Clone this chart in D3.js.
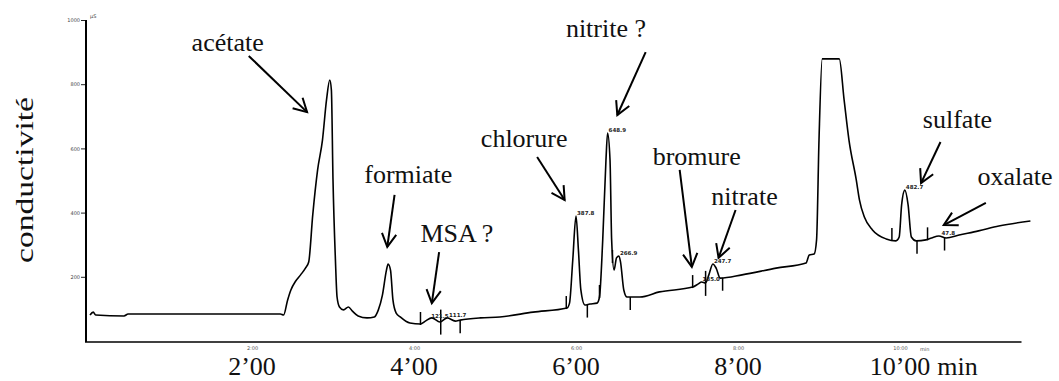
<!DOCTYPE html>
<html><head><meta charset="utf-8">
<script src="https://cdn.jsdelivr.net/npm/d3@7"></script>
<style>body{margin:0;background:#fff}svg{display:block}</style>
</head><body>
<svg id="c" width="1059" height="381"></svg>
<script>
// ---- data (time in minutes, conductivity in detector units) ----
const traceTime = [0,0.04,0.07,0.42,0.47,2.35,2.39,2.44,2.48,2.54,2.60,2.66,2.70,2.75,2.81,2.87,2.92,2.96,2.98,3.00,
  3.03,3.05,3.08,3.13,3.19,3.24,3.31,3.42,3.51,3.56,3.61,3.66,3.68,3.71,3.74,3.78,3.83,3.95,4.08,4.14,
  4.22,4.32,4.41,4.51,4.57,4.82,5.06,5.47,5.89,5.92,5.96,6.00,6.03,6.06,6.11,6.17,6.26,6.29,6.33,6.37,
  6.39,6.42,6.44,6.47,6.50,6.53,6.55,6.59,6.63,6.79,7.03,7.44,7.51,7.55,7.60,7.64,7.69,7.73,7.78,8.05,
  8.47,8.84,8.88,8.94,8.97,9.00,9.04,9.25,9.31,9.37,9.46,9.50,9.56,9.66,9.83,9.95,9.99,10.02,10.06,10.10,
  10.14,10.20,10.32,10.39,10.48,10.57,10.73,10.97,11.22,11.61];
const traceValue = [81,90,81,78,84,84,81,128,159,187,206,227,246,393,533,626,751,813,782,502,
  252,137,106,97,106,93,78,72,75,97,143,221,240,221,128,87,75,56,53,62,
  72,59,72,62,65,72,75,90,103,118,252,389,283,159,112,115,118,137,315,564,
  648,564,315,221,259,265,246,159,137,137,153,168,178,184,181,206,240,227,196,206,
  227,243,268,271,315,626,879,879,751,626,502,439,386,346,318,312,324,424,470,424,
  324,312,315,321,327,321,330,343,358,374];

const yTicks = [200,400,600,800,1000];
const yTickLabels = ["200","400","600","800","1000"];
const xTicks = [2,4,6,8,10];
const xTickSmallLabels = ["2:00","4:00","6:00","8:00","10:00"];
const xTickLabels = ["2’00","4’00","6’00","8’00","10’00"];
const xUnit = "min";
const yTitle = "conductivité";
const yUnit = "µS";

// integration markers: time and kind
const markTimes = [4.08,4.33,4.57,5.88,6.14,6.29,6.45,6.67,7.44,7.60,7.81,9.90,10.21,10.34,10.55];
const markKinds = ["up","cross","down","up","down","up","down","down","up","cross","down","up","down","up","down"];

// small peak labels
const peakLabelTimes = [4.20,4.42,6.00,6.39,6.53,7.55,7.69,10.06,10.50];
const peakLabelTexts = ["121.5","111.7","387.8","648.9","266.9","185.0","247.7","482.7","47.8"];

// annotations (data coordinates: time, value)
const annoNames = ["acétate","formiate","MSA ?","chlorure","nitrite ?","bromure","nitrate","sulfate","oxalate"];
const annoTextT = [1.70,3.93,4.53,5.36,6.37,7.49,8.08,10.71,11.42];
const annoTextV = [903,493,309,604,947,548,424,664,486];
const annoFromT = [1.96,3.76,4.31,5.52,6.86,7.28,7.97,10.50,11.06];
const annoFromV = [888,455,277,573,900,533,408,620,430];
const annoToT   = [2.68,3.67,4.22,5.86,6.51,7.43,7.76,10.26,10.54];
const annoToV   = [713,293,118,439,704,231,259,492,361];

// ---- drawing ----
const svg = d3.select("#c");
const x = d3.scaleLinear().domain([0,11.5]).range([90,1021.5]);
const y = d3.scaleLinear().domain([0,1000]).range([341,20]);
const axisX = 86, axisY = y(0)+1;
const serif = "'Liberation Serif','Times New Roman',serif";

function valueAt(t){
  const i = d3.bisectLeft(traceTime, t);
  if (i<=0) return traceValue[0];
  if (i>=traceTime.length) return traceValue[traceValue.length-1];
  const t0=traceTime[i-1], t1=traceTime[i];
  const f=(t-t0)/(t1-t0);
  return traceValue[i-1]+f*(traceValue[i]-traceValue[i-1]);
}

// y axis
const gy = svg.append("g").attr("transform",`translate(${axisX},0)`)
  .call(d3.axisLeft(y).tickValues(yTicks).tickFormat((d,i)=>yTickLabels[i]).tickSize(5).tickPadding(1).tickSizeOuter(0));
gy.select(".domain").remove();
gy.selectAll("line").attr("stroke","#222").attr("stroke-width",1);
gy.selectAll("text").attr("font-size",5).attr("font-family","DejaVu Sans").attr("fill","#444");
svg.append("line").attr("x1",axisX).attr("x2",axisX).attr("y1",y(1000)).attr("y2",axisY)
  .attr("stroke","#000").attr("stroke-width",2);
svg.append("text").attr("x",axisX+4).attr("y",y(1000)-2).attr("font-size",5)
  .attr("font-family","DejaVu Sans").attr("fill","#444").text(yUnit);

// x axis
const gx = svg.append("g").attr("transform",`translate(0,${axisY})`)
  .call(d3.axisBottom(x).tickValues(xTicks).tickFormat((d,i)=>xTickSmallLabels[i]).tickSize(0).tickPadding(4));
gx.select(".domain").remove();
gx.selectAll("text").attr("font-size",5).attr("font-family","DejaVu Sans").attr("fill","#555");
svg.append("line").attr("x1",axisX-1).attr("x2",x.range()[1]).attr("y1",axisY).attr("y2",axisY)
  .attr("stroke","#000").attr("stroke-width",1.6);
svg.append("text").attr("x",x(10)+20).attr("y",axisY+9).attr("font-size",5)
  .attr("font-family","DejaVu Sans").attr("fill","#555").text(xUnit);

// big x labels
const big = svg.append("g").selectAll("text").data(xTicks).join("text")
  .attr("x",d=>x(d)).attr("y",375).attr("text-anchor","middle")
  .attr("font-family",serif).attr("font-size",26).attr("fill","#111")
  .text((d,i)=>xTickLabels[i]);
const lastNode = big.nodes()[big.nodes().length-1];
const lastW = lastNode.getComputedTextLength();
svg.append("text").attr("x",x(xTicks[xTicks.length-1])+lastW/2+7).attr("y",375)
  .attr("font-family",serif).attr("font-size",26).attr("fill","#111").text(xUnit);

// y title
svg.append("text").attr("transform",`translate(33,${(97+263)/2}) rotate(-90)`)
  .attr("text-anchor","middle").attr("font-family",serif).attr("font-size",26)
  .attr("textLength",166).attr("lengthAdjust","spacingAndGlyphs").attr("fill","#111").text(yTitle);

// trace
const line = d3.line().x(i=>x(traceTime[i])).y(i=>y(traceValue[i])).curve(d3.curveMonotoneX);
svg.append("path").attr("d",line(d3.range(traceTime.length)))
  .attr("fill","none").attr("stroke","#000").attr("stroke-width",1.6).attr("stroke-linejoin","round");

// integration marks
svg.append("g").selectAll("line").data(markTimes).join("line")
  .attr("x1",d=>x(d)).attr("x2",d=>x(d))
  .attr("y1",(d,i)=>{const p=y(valueAt(d)); return markKinds[i]==="down"?p:p-12;})
  .attr("y2",(d,i)=>{const p=y(valueAt(d)); return markKinds[i]==="up"?p+1:p+13;})
  .attr("stroke","#000").attr("stroke-width",1.5);

// peak labels
svg.append("g").selectAll("text").data(peakLabelTimes).join("text")
  .attr("x",d=>x(d)+1).attr("y",d=>y(valueAt(d))-1)
  .attr("font-family","DejaVu Sans").attr("font-size",5.5).attr("font-weight","bold").attr("fill","#222")
  .text((d,i)=>peakLabelTexts[i]);

// annotations
const ag = svg.append("g");
annoNames.forEach((name,i)=>{
  ag.append("text").attr("x",x(annoTextT[i])).attr("y",y(annoTextV[i])).attr("text-anchor","middle")
    .attr("font-family",serif).attr("font-size",26).attr("fill","#111").text(name);
  const x1=x(annoFromT[i]), y1=y(annoFromV[i]), x2=x(annoToT[i]), y2=y(annoToV[i]);
  ag.append("line").attr("x1",x1).attr("y1",y1).attr("x2",x2).attr("y2",y2)
    .attr("stroke","#000").attr("stroke-width",2);
  const a=Math.atan2(y2-y1,x2-x1), L=15, h=0.5;
  const p1=[x2-L*Math.cos(a-h), y2-L*Math.sin(a-h)];
  const p2=[x2-L*Math.cos(a+h), y2-L*Math.sin(a+h)];
  ag.append("path").attr("d",`M${p1[0]},${p1[1]}L${x2},${y2}L${p2[0]},${p2[1]}`)
    .attr("fill","none").attr("stroke","#000").attr("stroke-width",2).attr("stroke-linejoin","miter");
});
</script>
</body></html>
